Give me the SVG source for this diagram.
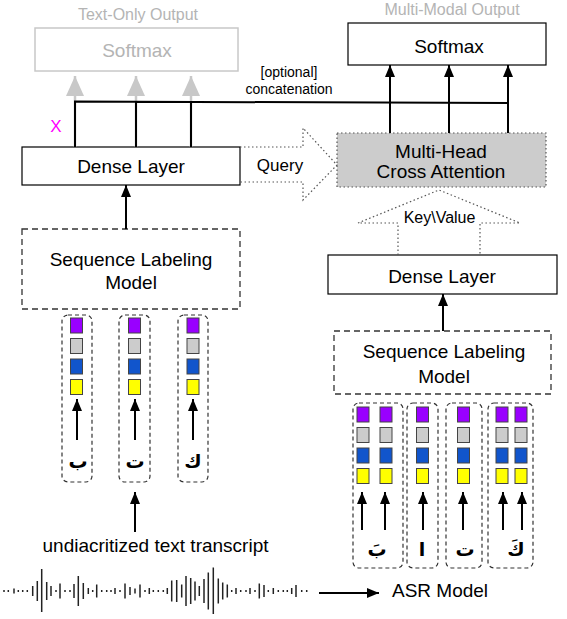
<svg xmlns="http://www.w3.org/2000/svg" width="567" height="619" viewBox="0 0 567 619">
<style>
text{font-family:"Liberation Sans",Arial,sans-serif;fill:#000;}
.lbl{font-size:19px;text-anchor:middle;}
.gry{fill:#b4b4b4;}
.box{fill:#fff;stroke:#000;stroke-width:1.2;}
.dash{fill:#fff;stroke:#333;stroke-width:1.3;stroke-dasharray:6,4;}
.col{fill:none;stroke:#333;stroke-width:1.2;stroke-dasharray:4,3;}
.dot{fill:none;stroke:#555;stroke-width:1.2;stroke-dasharray:1.5,2.5;}
.ar{stroke:#000;stroke-width:2;fill:none;marker-end:url(#ah);}
.p{fill:#9900ff;stroke:#444;stroke-width:1;}
.g{fill:#cccccc;stroke:#444;stroke-width:1;}
.b{fill:#1155cc;stroke:#444;stroke-width:1;}
.y{fill:#ffff00;stroke:#444;stroke-width:1;}
.ara{font-family:"DejaVu Sans",sans-serif;font-weight:bold;font-size:19px;text-anchor:middle;}
.wv line{stroke:#222;stroke-width:1.5;}
</style>
<defs>
<marker id="ah" markerUnits="userSpaceOnUse" markerWidth="12" markerHeight="10" refX="12" refY="5" orient="auto"><path d="M0,0 L12,5 L0,10 z" fill="#000"/></marker>
<marker id="gah" markerUnits="userSpaceOnUse" markerWidth="20" markerHeight="18" refX="20" refY="9" orient="auto"><path d="M0,0 L20,9 L0,18 z" fill="#c8c8c8"/></marker>
<g id="tok"><rect class="p" x="0" y="0" width="12" height="15"/><rect class="g" x="0" y="20.5" width="12" height="15"/><rect class="b" x="0" y="41" width="12" height="15"/><rect class="y" x="0" y="61.5" width="12" height="15"/></g>
</defs>

<g id="text-only-output">
<text class="lbl gry" x="138" y="20" style="font-size:16px">Text-Only Output</text>
<rect x="35" y="28" width="203" height="43" fill="#fff" stroke="#c8c8c8" stroke-width="1.5"/>
<text class="lbl gry" x="137" y="57">Softmax</text>
</g>

<g id="multi-modal-output">
<text class="lbl gry" x="452" y="15" style="font-size:16px">Multi-Modal Output</text>
<rect class="box" x="348" y="23" width="198" height="42"/>
<text class="lbl" x="449" y="53">Softmax</text>
</g>

<g id="dense-left">
<rect class="box" x="22" y="147" width="218" height="38"/>
<text class="lbl" x="131" y="173">Dense Layer</text>
</g>

<g id="mhca">
<rect x="337" y="133" width="209" height="54" fill="#cccccc" stroke="#555" stroke-width="1.2" stroke-dasharray="1.5,2.5"/>
<text class="lbl" x="441" y="158">Multi-Head</text>
<text class="lbl" x="441" y="178">Cross Attention</text>
</g>

<g id="slm-left">
<rect class="dash" x="22" y="229" width="218" height="80"/>
<text class="lbl" x="131" y="266">Sequence Labeling</text>
<text class="lbl" x="131" y="289">Model</text>
</g>

<g id="dense-right">
<rect class="box" x="328" y="255" width="229" height="39"/>
<text class="lbl" x="442" y="283">Dense Layer</text>
</g>

<g id="slm-right">
<rect class="dash" x="334" y="331" width="217" height="63"/>
<text class="lbl" x="444" y="358">Sequence Labeling</text>
<text class="lbl" x="444" y="383">Model</text>
</g>

<g id="tokens-left">
<rect class="col" x="62" y="315" width="30" height="167" rx="6"/>
<rect class="col" x="119" y="315" width="31" height="167" rx="6"/>
<rect class="col" x="178" y="315" width="30" height="167" rx="6"/>
<use href="#tok" x="70.5" y="318"/>
<use href="#tok" x="128.5" y="318"/>
<use href="#tok" x="187" y="318"/>
<text class="ara" x="78" y="468">ب</text>
<text class="ara" x="135" y="468">ت</text>
<text class="ara" x="193" y="468">ك</text>
</g>

<g id="tokens-right">
<rect class="col" x="353" y="403" width="50" height="165" rx="6"/>
<rect class="col" x="407" y="403" width="31" height="165" rx="6"/>
<rect class="col" x="446" y="403" width="36" height="165" rx="6"/>
<rect class="col" x="488" y="403" width="45" height="165" rx="6"/>
<use href="#tok" x="357" y="407"/>
<use href="#tok" x="380" y="407"/>
<use href="#tok" x="416.5" y="407"/>
<use href="#tok" x="457.5" y="407"/>
<use href="#tok" x="496" y="407"/>
<use href="#tok" x="515" y="407"/>
<text class="ara" x="377" y="556">بَ</text>
<text class="ara" x="422" y="556">ا</text>
<text class="ara" x="465" y="556">ت</text>
<text class="ara" x="516" y="556">كَ</text>
</g>

<g id="transcript">
<text class="lbl" x="155.5" y="552">undiacritized text transcript</text>
</g>

<g id="asr">
<text x="392" y="597" style="font-size:19px">ASR Model</text>
</g>

<g id="waveform" class="wv">
<line x1="4" y1="590" x2="4" y2="592"/>
<line x1="8.3" y1="590" x2="8.3" y2="592"/>
<line x1="14" y1="588.5" x2="14" y2="593.5"/>
<line x1="18.3" y1="590" x2="18.3" y2="592"/>
<line x1="22.7" y1="590" x2="22.7" y2="592"/>
<line x1="27.3" y1="590" x2="27.3" y2="592"/>
<line x1="32.7" y1="586" x2="32.7" y2="596"/>
<line x1="37.3" y1="581" x2="37.3" y2="601"/>
<line x1="41.7" y1="569" x2="41.7" y2="612"/>
<line x1="46.7" y1="582" x2="46.7" y2="600"/>
<line x1="51" y1="586" x2="51" y2="596"/>
<line x1="56" y1="590" x2="56" y2="592"/>
<line x1="60" y1="583.5" x2="60" y2="598.5"/>
<line x1="65" y1="590" x2="65" y2="592"/>
<line x1="70" y1="590" x2="70" y2="592"/>
<line x1="74" y1="584" x2="74" y2="598"/>
<line x1="78.3" y1="576" x2="78.3" y2="606"/>
<line x1="83.3" y1="583" x2="83.3" y2="599"/>
<line x1="88.3" y1="588" x2="88.3" y2="594"/>
<line x1="92.7" y1="590" x2="92.7" y2="592"/>
<line x1="96.7" y1="584.5" x2="96.7" y2="597.5"/>
<line x1="101.7" y1="590" x2="101.7" y2="592"/>
<line x1="106.7" y1="590" x2="106.7" y2="592"/>
<line x1="111" y1="590" x2="111" y2="592"/>
<line x1="115" y1="588" x2="115" y2="594"/>
<line x1="120" y1="590" x2="120" y2="592"/>
<line x1="125" y1="583.5" x2="125" y2="598.5"/>
<line x1="130" y1="587" x2="130" y2="595"/>
<line x1="135" y1="588.5" x2="135" y2="593.5"/>
<line x1="140" y1="584.5" x2="140" y2="597.5"/>
<line x1="145" y1="590" x2="145" y2="592"/>
<line x1="149.3" y1="588" x2="149.3" y2="594"/>
<line x1="153.3" y1="590" x2="153.3" y2="592"/>
<line x1="158.3" y1="590" x2="158.3" y2="592"/>
<line x1="163.3" y1="590" x2="163.3" y2="592"/>
<line x1="167.3" y1="588" x2="167.3" y2="594"/>
<line x1="171.7" y1="580.5" x2="171.7" y2="601.5"/>
<line x1="176.7" y1="580" x2="176.7" y2="602"/>
<line x1="181.7" y1="584.5" x2="181.7" y2="597.5"/>
<line x1="186" y1="576" x2="186" y2="606"/>
<line x1="190.7" y1="578" x2="190.7" y2="604"/>
<line x1="195" y1="581.5" x2="195" y2="600.5"/>
<line x1="199.3" y1="586" x2="199.3" y2="596"/>
<line x1="204" y1="579" x2="204" y2="603"/>
<line x1="208.3" y1="572.5" x2="208.3" y2="609.5"/>
<line x1="213.3" y1="567.5" x2="213.3" y2="614"/>
<line x1="218.3" y1="578.5" x2="218.3" y2="603.5"/>
<line x1="222.7" y1="582.5" x2="222.7" y2="599.5"/>
<line x1="227.3" y1="584.5" x2="227.3" y2="597.5"/>
<line x1="231.7" y1="590" x2="231.7" y2="592"/>
<line x1="236" y1="588" x2="236" y2="594"/>
<line x1="240.7" y1="590" x2="240.7" y2="592"/>
<line x1="246" y1="590" x2="246" y2="592"/>
<line x1="250" y1="588" x2="250" y2="594"/>
<line x1="255" y1="590" x2="255" y2="592"/>
<line x1="259.3" y1="583.5" x2="259.3" y2="598.5"/>
<line x1="264" y1="585" x2="264" y2="597"/>
<line x1="268.3" y1="590" x2="268.3" y2="592"/>
<line x1="273.3" y1="588" x2="273.3" y2="594"/>
<line x1="278.3" y1="590" x2="278.3" y2="592"/>
<line x1="283.3" y1="590" x2="283.3" y2="592"/>
<line x1="287.3" y1="590" x2="287.3" y2="592"/>
<line x1="291.7" y1="588" x2="291.7" y2="594"/>
<line x1="296" y1="585" x2="296" y2="597"/>
<line x1="301.7" y1="590" x2="301.7" y2="592"/>
<line x1="306.7" y1="590" x2="306.7" y2="592"/>
</g>

<g id="connectors">
<line x1="75" y1="147" x2="75" y2="76" stroke="#c8c8c8" stroke-width="2.5" marker-end="url(#gah)"/>
<line x1="136" y1="147" x2="136" y2="76" stroke="#c8c8c8" stroke-width="2.5" marker-end="url(#gah)"/>
<line x1="191" y1="147" x2="191" y2="76" stroke="#c8c8c8" stroke-width="2.5" marker-end="url(#gah)"/>
<path d="M75,147 L75,101.5 L508,103 M136,147 L136,101.5 M191,147 L191,101.5" fill="none" stroke="#000" stroke-width="2"/>
<path d="M508,133 L508,103" fill="none" stroke="#000" stroke-width="2"/>
<line class="ar" x1="390" y1="133" x2="390" y2="65"/>
<line class="ar" x1="449" y1="133" x2="449" y2="65"/>
<line class="ar" x1="508" y1="133" x2="508" y2="65"/>
<path class="dot" d="M240,147 L303,147 L303,128 L337,165 L303,200 L303,182 L240,182"/>
<path class="dot" d="M398,255 L398,223 L358,223 L439,190 L520,223 L480,223 L480,255"/>
<line class="ar" x1="126" y1="229" x2="126" y2="185"/>
<line class="ar" x1="443" y1="331" x2="443" y2="294"/>
<line class="ar" x1="77" y1="440" x2="77" y2="399"/>
<line class="ar" x1="135" y1="440" x2="135" y2="399"/>
<line class="ar" x1="193" y1="440" x2="193" y2="399"/>
<line class="ar" x1="362" y1="530" x2="362" y2="492"/>
<line class="ar" x1="385" y1="530" x2="385" y2="492"/>
<line class="ar" x1="423" y1="530" x2="423" y2="492"/>
<line class="ar" x1="463" y1="530" x2="463" y2="492"/>
<line class="ar" x1="503" y1="530" x2="503" y2="492"/>
<line class="ar" x1="522" y1="530" x2="522" y2="492"/>
<line class="ar" x1="135" y1="532" x2="135" y2="492"/>
<line class="ar" x1="319" y1="593" x2="379" y2="593"/>
<text x="289" y="77" style="font-size:14px;text-anchor:middle">[optional]</text>
<text x="289" y="94" style="font-size:14px;text-anchor:middle">concatenation</text>
<text x="56" y="132" style="font-size:17px;text-anchor:middle;fill:#ff00ff">X</text>
<text x="280" y="171" style="font-size:17px;text-anchor:middle">Query</text>
<text x="439.5" y="223" style="font-size:16px;text-anchor:middle">Key\Value</text>
</g>
</svg>
